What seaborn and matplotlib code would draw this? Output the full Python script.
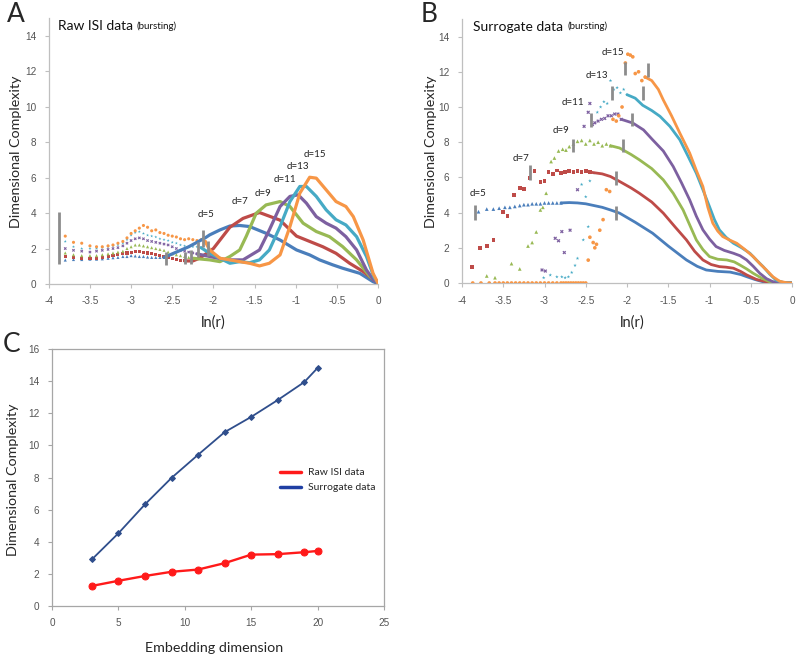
import matplotlib
matplotlib.use("Agg")
import matplotlib.pyplot as plt
import seaborn as sns
import pandas as pd

# ---------------- colours / series names ----------------
dims = [5, 7, 9, 11, 13, 15]
colors = ["#4A7EBB", "#BE4B48", "#98B954", "#7D60A0", "#46AAC5", "#F79646"]
markers = ["^", "s", "^", "X", "*", "o"]

# ---------------- Panel A: raw ISI data (bursting) ----------------
A_dot_x = [-3.8, -3.7, -3.6, -3.5, -3.42, -3.35, -3.28, -3.22, -3.16, -3.1, -3.05, -3.0,
           -2.95, -2.9, -2.85, -2.8, -2.75, -2.7, -2.65, -2.6, -2.55, -2.5, -2.45, -2.4,
           -2.35, -2.3, -2.25, -2.2, -2.15, -2.1]
A5_dot_y = [1.35, 1.38, 1.38, 1.4, 1.4, 1.42, 1.45, 1.48, 1.5, 1.55, 1.55, 1.6, 1.58, 1.55,
            1.55, 1.52, 1.5, 1.5, 1.5, 1.5]
A7_dot_y = [1.55, 1.5, 1.45, 1.45, 1.45, 1.5, 1.55, 1.6, 1.65, 1.7, 1.75, 1.8, 1.85, 1.85,
            1.8, 1.75, 1.7, 1.65, 1.6, 1.55, 1.5, 1.45, 1.4, 1.35, 1.3]
A9_dot_y = [1.75, 1.65, 1.6, 1.6, 1.6, 1.65, 1.7, 1.75, 1.8, 1.85, 2.0, 2.1, 2.2, 2.2, 2.15,
            2.1, 2.05, 2.0, 1.95, 1.9, 1.8, 1.7, 1.65, 1.6, 1.55, 1.5, 1.45]
A11_dot_y = [2.0, 1.9, 1.85, 1.8, 1.85, 1.9, 1.95, 2.0, 2.05, 2.15, 2.3, 2.45, 2.55, 2.6,
             2.55, 2.45, 2.4, 2.35, 2.3, 2.25, 2.2, 2.1, 2.0, 1.9, 1.85, 1.8, 1.75, 1.7]
A13_dot_y = [2.4, 2.1, 2.0, 2.0, 2.0, 2.05, 2.1, 2.15, 2.2, 2.3, 2.5, 2.75, 2.9, 2.95, 2.85,
             2.75, 2.7, 2.65, 2.55, 2.5, 2.45, 2.35, 2.3, 2.2, 2.15, 2.1, 2.1, 2.1, 2.05]
A15_dot_y = [2.7, 2.35, 2.3, 2.15, 2.1, 2.1, 2.15, 2.2, 2.3, 2.4, 2.6, 2.85, 3.0, 3.15, 3.3,
             3.2, 3.0, 3.05, 2.9, 2.85, 2.75, 2.7, 2.65, 2.55, 2.5, 2.55, 2.5, 2.45, 2.5, 2.4]

A5_line_x = [-2.6, -2.5, -2.4, -2.3, -2.2, -2.1, -2.045, -1.92, -1.8, -1.68, -1.56, -1.36,
             -1.19, -0.99, -0.83, -0.71, -0.55, -0.43, -0.22, -0.06, 0.0]
A5_line_y = [1.5, 1.7, 1.9, 2.1, 2.35, 2.6, 2.77, 3.05, 3.27, 3.3, 3.24, 2.86, 2.48, 1.92,
             1.64, 1.36, 1.08, 0.89, 0.6, 0.13, 0.03]
A7_line_x = [-2.35, -2.25, -2.17, -2.09, -2.0, -1.9, -1.8, -1.64, -1.44, -1.19, -0.99, -0.83,
             -0.67, -0.51, -0.345, -0.18, 0.0]
A7_line_y = [1.3, 1.3, 1.45, 1.7, 2.0, 2.6, 3.2, 3.7, 4.03, 3.6, 2.7, 2.4, 2.1, 1.73, 1.17,
             0.7, 0.05]
A9_line_x = [-2.25, -2.045, -1.92, -1.8, -1.68, -1.6, -1.48, -1.36, -1.19, -1.07, -0.91,
             -0.75, -0.59, -0.43, -0.26, -0.10, 0.0]
A9_line_y = [1.45, 1.36, 1.26, 1.55, 1.92, 2.7, 3.99, 4.46, 4.65, 4.37, 3.43, 2.96, 2.67,
             2.11, 1.36, 0.43, 0.05]
A11_line_x = [-2.2, -2.045, -1.84, -1.64, -1.44, -1.32, -1.19, -1.07, -0.97, -0.87, -0.75,
              -0.63, -0.51, -0.39, -0.26, -0.14, -0.05, 0.0]
A11_line_y = [1.7, 1.55, 1.36, 1.36, 1.92, 3.05, 4.37, 4.94, 5.03, 4.56, 3.8, 3.43, 3.15,
              2.67, 1.92, 0.79, 0.2, 0.05]
A13_line_x = [-2.15, -2.045, -1.92, -1.8, -1.68, -1.56, -1.44, -1.32, -1.19, -1.07, -0.95,
              -0.87, -0.75, -0.63, -0.51, -0.39, -0.26, -0.14, -0.05, 0.0]
A13_line_y = [2.05, 1.73, 1.45, 1.17, 1.26, 1.2, 1.36, 1.92, 3.24, 4.65, 5.5, 5.5, 4.94,
              4.18, 3.62, 3.33, 2.67, 1.55, 0.4, 0.05]
A15_line_x = [-2.1, -2.045, -1.92, -1.8, -1.68, -1.56, -1.44, -1.32, -1.19, -1.07, -0.95,
              -0.83, -0.75, -0.63, -0.51, -0.39, -0.3, -0.18, -0.06, 0.0]
A15_line_y = [2.4, 1.92, 1.45, 1.36, 1.26, 1.17, 1.02, 1.17, 1.64, 3.24, 5.12, 6.02, 5.97,
              5.31, 4.65, 4.37, 3.8, 2.48, 0.6, 0.05]

A_bar_x = [-3.88, -2.57, -2.34, -2.27, -2.19, -2.13, -2.07]
A_bar_lo = [1.1, 1.07, 1.13, 1.15, 1.54, 2.1, 1.6]
A_bar_hi = [4.08, 1.82, 1.82, 1.9, 2.39, 3.05, 2.45]

A_lab_x = [-2.09, -1.68, -1.40, -1.13, -0.97, -0.77]
A_lab_y = [3.9, 4.65, 5.1, 5.9, 6.6, 7.3]

# ---------------- Panel B: surrogate data (bursting) ----------------
B5_dot_x = [-3.8, -3.7, -3.62, -3.55, -3.48, -3.42, -3.36, -3.3, -3.25, -3.2, -3.15, -3.1,
            -3.05, -3.0, -2.95, -2.9, -2.85, -2.8]
B5_dot_y = [4.05, 4.2, 4.2, 4.25, 4.3, 4.3, 4.35, 4.4, 4.45, 4.45, 4.5, 4.5, 4.5, 4.55, 4.55,
            4.55, 4.55, 4.55]
B7_dot_x = [-3.88, -3.78, -3.7, -3.62, -3.5, -3.45, -3.37, -3.3, -3.25, -3.18, -3.12, -3.05,
            -3.0, -2.95, -2.9, -2.85, -2.8, -2.75, -2.7, -2.65, -2.6, -2.55, -2.5, -2.45]
B7_dot_y = [0.9, 2.0, 2.1, 2.45, 4.05, 3.8, 5.0, 5.4, 5.35, 5.95, 6.35, 5.75, 5.8, 6.3, 6.2,
            6.4, 6.25, 6.3, 6.35, 6.3, 6.35, 6.3, 6.35, 6.3]
B9_dot_x = [-3.7, -3.6, -3.4, -3.3, -3.2, -3.15, -3.1, -3.05, -3.02, -2.98, -2.92, -2.88,
            -2.83, -2.78, -2.74, -2.7, -2.65, -2.6, -2.55, -2.5, -2.45, -2.4, -2.35, -2.3,
            -2.25, -2.2]
B9_dot_y = [0.4, 0.3, 1.1, 0.8, 2.1, 2.3, 2.9, 4.15, 4.3, 5.1, 6.9, 7.1, 7.5, 7.6, 7.55,
            7.75, 7.9, 8.05, 8.1, 7.9, 8.1, 7.9, 8.0, 7.8, 7.9, 7.8]
B11_dot_x = [-3.03, -2.99, -2.87, -2.83, -2.79, -2.76, -2.69, -2.6, -2.52, -2.47, -2.45,
             -2.42, -2.39, -2.35, -2.31, -2.27, -2.23, -2.19, -2.15, -2.11, -2.07]
B11_dot_y = [0.74, 0.68, 2.54, 2.4, 2.92, 1.73, 3.0, 5.3, 8.9, 9.7, 10.2, 9.0, 9.1, 9.2, 9.3,
             9.35, 9.5, 9.5, 9.6, 9.6, 9.3]
B13_dot_x = [-3.01, -2.93, -2.85, -2.79, -2.75, -2.71, -2.67, -2.63, -2.6, -2.55, -2.53,
             -2.5, -2.47, -2.45, -2.4, -2.36, -2.32, -2.28, -2.24, -2.2, -2.16, -2.12, -2.08,
             -2.04, -2.0]
B13_dot_y = [0.3, 0.45, 0.35, 0.35, 0.3, 0.35, 0.6, 1.0, 1.4, 5.6, 2.45, 4.9, 3.2, 5.8, 6.25,
             9.7, 10.0, 10.3, 10.2, 11.5, 11.0, 11.1, 10.8, 11.0, 10.7]
B15_dot_x = [-3.87, -3.77, -3.67, -3.6, -3.55, -3.5, -3.45, -3.4, -3.35, -3.3, -3.25, -3.2,
             -3.15, -3.1, -3.05, -3.0, -2.95, -2.9, -2.85, -2.8, -2.77, -2.74, -2.71, -2.68,
             -2.65, -2.62, -2.59, -2.56, -2.53, -2.5, -2.47, -2.45, -2.41, -2.39, -2.37,
             -2.33, -2.29, -2.25, -2.21, -2.17, -2.13, -2.1, -2.06, -2.02, -1.99, -1.96,
             -1.93, -1.9, -1.86, -1.82, -1.78]
B15_dot_y = [0, 0, 0, 0, 0, 0, 0, 0, 0, 0, 0, 0, 0, 0, 0, 0, 0, 0, 0, 0, 0, 0, 0, 0, 0, 0, 0,
             0, 0, 0, 1.3, 2.6, 2.3, 2.0, 2.2, 3.0, 3.6, 5.3, 5.2, 9.3, 9.2, 9.5, 10.0, 12.5,
             13.0, 12.95, 12.85, 11.9, 12.0, 11.5, 11.7]

B5_line_x = [-2.8, -2.7, -2.6, -2.5, -2.4, -2.3, -2.2, -2.09, -1.9, -1.69, -1.5, -1.28, -1.15,
             -1.04, -0.9, -0.75, -0.62, -0.55, -0.45, -0.35, -0.25, 0.0]
B5_line_y = [4.55, 4.57, 4.55, 4.5, 4.4, 4.3, 4.15, 3.97, 3.45, 2.83, 2.1, 1.31, 0.95, 0.74,
             0.66, 0.62, 0.48, 0.36, 0.2, 0.07, 0.02, 0.0]
B7_line_x = [-2.45, -2.3, -2.2, -2.09, -1.95, -1.85, -1.7, -1.56, -1.42, -1.28, -1.18, -1.08,
             -0.98, -0.88, -0.8, -0.71, -0.62, -0.55, -0.43, -0.31, -0.2, 0.0]
B7_line_y = [6.3, 6.2, 6.05, 5.77, 5.4, 5.1, 4.6, 3.97, 3.2, 2.45, 1.8, 1.31, 1.05, 0.93,
             0.9, 0.84, 0.65, 0.46, 0.2, 0.07, 0.02, 0.0]
B9_line_x = [-2.2, -2.09, -1.95, -1.85, -1.7, -1.56, -1.44, -1.32, -1.24, -1.16, -1.08, -1.0,
             -0.9, -0.79, -0.7, -0.63, -0.55, -0.47, -0.37, -0.27, -0.15, 0.0]
B9_line_y = [7.8, 7.67, 7.3, 7.0, 6.5, 5.86, 5.1, 4.15, 3.3, 2.45, 1.9, 1.5, 1.35, 1.31, 1.2,
             1.02, 0.8, 0.55, 0.28, 0.07, 0.02, 0.0]
B11_line_x = [-2.07, -1.93, -1.8, -1.69, -1.56, -1.44, -1.34, -1.24, -1.16, -1.08, -1.0,
              -0.92, -0.82, -0.71, -0.63, -0.55, -0.47, -0.39, -0.31, -0.23, -0.12, 0.0]
B11_line_y = [9.3, 9.09, 8.7, 8.14, 7.5, 6.62, 5.7, 4.72, 3.8, 3.02, 2.5, 2.07, 1.85, 1.69,
              1.55, 1.31, 0.95, 0.55, 0.25, 0.07, 0.02, 0.0]
B13_line_x = [-2.0, -1.9, -1.81, -1.7, -1.6, -1.48, -1.36, -1.26, -1.16, -1.08, -1.0, -0.94,
              -0.88, -0.8, -0.71, -0.61, -0.51, -0.43, -0.35, -0.27, -0.19, -0.1, 0.0]
B13_line_y = [10.7, 10.5, 10.1, 9.8, 9.47, 8.9, 8.14, 7.2, 6.24, 5.3, 4.34, 3.6, 3.02, 2.6,
              2.26, 2.0, 1.69, 1.3, 0.93, 0.5, 0.15, 0.03, 0.0]
B15_line_x = [-1.78, -1.7, -1.62, -1.56, -1.46, -1.36, -1.24, -1.16, -1.08, -1.02, -0.96,
              -0.9, -0.84, -0.76, -0.67, -0.57, -0.47, -0.39, -0.31, -0.23, -0.15, -0.07, 0.0]
B15_line_y = [11.7, 11.5, 11.0, 10.4, 9.5, 8.52, 7.38, 6.4, 5.48, 4.3, 3.4, 2.95, 2.64, 2.45,
              2.26, 1.9, 1.5, 1.1, 0.74, 0.35, 0.1, 0.02, 0.0]

B_bar_x = [-3.84, -3.18, -2.65, -2.44, -2.18, -2.03, -2.13, -2.13, -2.05, -1.94, -1.81, -1.74]
B_bar_lo = [3.6, 5.86, 7.42, 8.85, 10.37, 11.82, 5.58, 3.6, 7.42, 8.9, 10.4, 11.7]
B_bar_hi = [4.45, 6.7, 8.17, 9.65, 11.2, 12.58, 6.34, 4.35, 8.17, 9.65, 11.2, 12.5]

B_lab_x = [-3.80, -3.29, -2.80, -2.66, -2.37, -2.17]
B_lab_y = [5.1, 7.1, 8.65, 10.25, 11.8, 13.1]

# ---------------- Panel C ----------------
C_dim = [3, 5, 7, 9, 11, 13, 15, 17, 19, 20]
C_raw = [1.25, 1.57, 1.87, 2.13, 2.27, 2.67, 3.2, 3.23, 3.35, 3.43]
C_sur = [2.9, 4.53, 6.33, 7.98, 9.42, 10.83, 11.78, 12.83, 13.95, 14.83]

# ---------------- drawing ----------------
sns.set_theme(style="white")
plt.rcParams["font.family"] = ["Lato", "DejaVu Sans"]

fig = plt.figure(figsize=(8, 6.62), dpi=100)
axA = fig.add_axes([0.061, 0.571, 0.4115, 0.4018])
axB = fig.add_axes([0.5775, 0.5725, 0.4125, 0.3988])
axC = fig.add_axes([0.065, 0.0846, 0.415, 0.388])

tick_font = dict(family="Liberation Sans", size=7.2, color="#555555")
spine_c = "#BFBFBF"

A_dots = [A5_dot_y, A7_dot_y, A9_dot_y, A11_dot_y, A13_dot_y, A15_dot_y]
A_lines = [(A5_line_x, A5_line_y), (A7_line_x, A7_line_y), (A9_line_x, A9_line_y),
           (A11_line_x, A11_line_y), (A13_line_x, A13_line_y), (A15_line_x, A15_line_y)]
for d, c, m, dy, (lx, ly) in zip(dims, colors, markers, A_dots, A_lines):
    df_d = pd.DataFrame({"x": A_dot_x[:len(dy)], "y": dy})
    sns.scatterplot(data=df_d, x="x", y="y", ax=axA, color=c, marker=m, s=5,
                    edgecolor="none", legend=False, zorder=3)
    df_l = pd.DataFrame({"x": lx, "y": ly})
    sns.lineplot(data=df_l, x="x", y="y", ax=axA, color=c, lw=2.3, sort=False,
                 estimator=None, legend=False, zorder=4)
axA.vlines(A_bar_x, A_bar_lo, A_bar_hi, color="#8C8C8C", lw=2.0, zorder=5)
for d, lx, ly in zip(dims, A_lab_x, A_lab_y):
    axA.text(lx, ly, f"d={d}", fontsize=7, ha="center", va="center", color="#222222",
             family="Lato")

B_dots = [(B5_dot_x, B5_dot_y), (B7_dot_x, B7_dot_y), (B9_dot_x, B9_dot_y),
          (B11_dot_x, B11_dot_y), (B13_dot_x, B13_dot_y), (B15_dot_x, B15_dot_y)]
B_lines = [(B5_line_x, B5_line_y), (B7_line_x, B7_line_y), (B9_line_x, B9_line_y),
           (B11_line_x, B11_line_y), (B13_line_x, B13_line_y), (B15_line_x, B15_line_y)]
for d, c, m, (dx, dy), (lx, ly) in zip(dims, colors, markers, B_dots, B_lines):
    df_d = pd.DataFrame({"x": dx, "y": dy})
    sns.scatterplot(data=df_d, x="x", y="y", ax=axB, color=c, marker=m, s=7,
                    edgecolor="none", legend=False, zorder=3)
    df_l = pd.DataFrame({"x": lx, "y": ly})
    sns.lineplot(data=df_l, x="x", y="y", ax=axB, color=c, lw=2.0, sort=False,
                 estimator=None, legend=False, zorder=4)
axB.vlines(B_bar_x, B_bar_lo, B_bar_hi, color="#8C8C8C", lw=2.0, zorder=5)
for d, lx, ly in zip(dims, B_lab_x, B_lab_y):
    axB.text(lx, ly, f"d={d}", fontsize=7, ha="center", va="center", color="#222222",
             family="Lato")

for ax in (axA, axB):
    ax.set_xlim(-4, 0)
    ax.set_ylim(0, 15)
    ax.set_xticks([-4, -3.5, -3, -2.5, -2, -1.5, -1, -0.5, 0])
    ax.set_xticklabels(["-4", "-3.5", "-3", "-2.5", "-2", "-1.5", "-1", "-0.5", "0"],
                       fontdict=tick_font)
    ax.set_yticks(range(0, 15, 2))
    ax.set_yticklabels([str(v) for v in range(0, 15, 2)], fontdict=tick_font)
    ax.set_xlabel("")
    ax.set_ylabel("")
    for s in ("top", "right"):
        ax.spines[s].set_visible(False)
    for s in ("left", "bottom"):
        ax.spines[s].set_color(spine_c)
        ax.spines[s].set_linewidth(0.9)
    ax.tick_params(axis="both", which="both", length=3, width=0.8, color=spine_c,
                   direction="out", bottom=True, left=True, pad=6)

tA = axA.text(0.027, 0.97, "Raw ISI data", transform=axA.transAxes, fontsize=10,
              ha="left", va="center", color="#111111")
axA.annotate("(bursting)", xy=(1, 0.12), xycoords=tA, xytext=(3, 0),
             textcoords="offset points", fontsize=7, ha="left", va="bottom",
             color="#111111")
tB = axB.text(0.033, 0.97, "Surrogate data", transform=axB.transAxes, fontsize=10,
              ha="left", va="center", color="#111111")
axB.annotate("(bursting)", xy=(1, 0.12), xycoords=tB, xytext=(3, 0),
             textcoords="offset points", fontsize=7, ha="left", va="bottom",
             color="#111111")

# Panel C
dfC_raw = pd.DataFrame({"dim": C_dim, "val": C_raw})
dfC_sur = pd.DataFrame({"dim": C_dim, "val": C_sur})
sns.lineplot(data=dfC_raw, x="dim", y="val", ax=axC, color="#FF1A1A", lw=1.7,
             marker="o", markersize=5, markeredgecolor="#FF1A1A", label="Raw ISI data",
             estimator=None)
sns.lineplot(data=dfC_sur, x="dim", y="val", ax=axC, color="#2F4E8C", lw=1.3,
             marker="D", markersize=3.0, markeredgecolor="#2F4E8C",
             label="Surrogate data", estimator=None)
axC.set_xlim(0, 25)
axC.set_ylim(0, 16)
axC.set_xticks([0, 5, 10, 15, 20, 25])
axC.set_xticklabels(["0", "5", "10", "15", "20", "25"], fontdict=tick_font)
axC.set_yticks(range(0, 17, 2))
axC.set_yticklabels([str(v) for v in range(0, 17, 2)], fontdict=tick_font)
axC.set_xlabel("")
axC.set_ylabel("")
for s in axC.spines.values():
    s.set_visible(True)
    s.set_color("#A6A6A6")
    s.set_linewidth(0.9)
axC.tick_params(axis="both", length=3, width=0.8, color="#A6A6A6", direction="out",
                bottom=True, left=True, pad=6)
leg = axC.legend(loc="center left", bbox_to_anchor=(0.66, 0.49), frameon=False,
                 fontsize=7.5, handlelength=2.0, labelspacing=0.55, handletextpad=0.6)
for h in leg.get_lines():
    h.set_marker("")
    h.set_linewidth(2.5)
leg.get_lines()[1].set_color("#1F3FA3")

# axis labels and panel letters
fig.text(16 / 800, 1 - 152 / 662, "Dimensional Complexity", rotation=90, ha="center",
         va="center", fontsize=10.3)
fig.text(431 / 800, 1 - 152 / 662, "Dimensional Complexity", rotation=90, ha="center",
         va="center", fontsize=10.3)
fig.text(13 / 800, 1 - 480 / 662, "Dimensional Complexity", rotation=90, ha="center",
         va="center", fontsize=10.3)
fig.text(213 / 800, 1 - 323 / 662, "ln(r)", ha="center", va="center", fontsize=10.5)
fig.text(632 / 800, 1 - 323 / 662, "ln(r)", ha="center", va="center", fontsize=10.5)
fig.text(214 / 800, 1 - 648 / 662, "Embedding dimension", ha="center", va="center",
         fontsize=10.3)
fig.text(16 / 800, 1 - 15 / 662, "A", ha="center", va="center", fontsize=19)
fig.text(429 / 800, 1 - 15 / 662, "B", ha="center", va="center", fontsize=19)
fig.text(12 / 800, 1 - 344 / 662, "C", ha="center", va="center", fontsize=19)

fig.savefig("out.png", dpi=100)
